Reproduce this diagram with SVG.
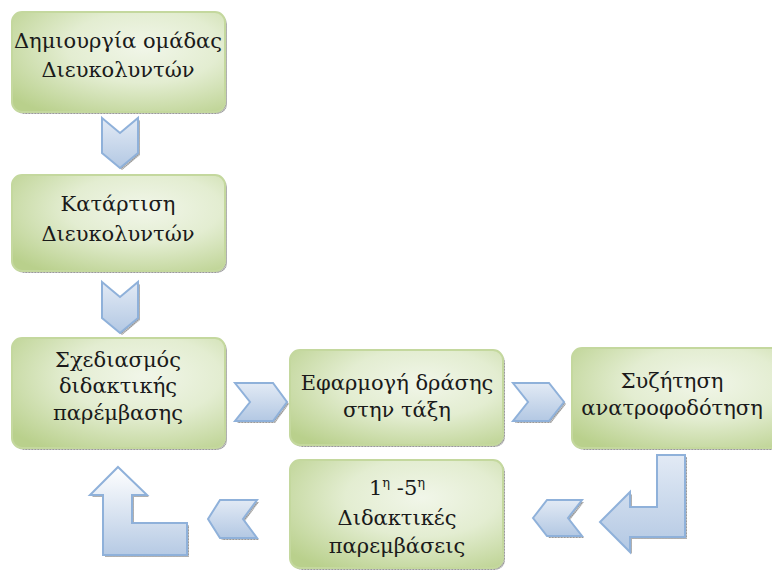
<svg xmlns="http://www.w3.org/2000/svg" width="772" height="579" viewBox="0 0 772 579">
<defs>
<radialGradient id="gBox" cx="0.62" cy="0.35" r="0.8">
<stop offset="0" stop-color="#f1f6e9"/>
<stop offset="0.45" stop-color="#e3edd1"/>
<stop offset="1" stop-color="#b9d08c"/>
</radialGradient>
<linearGradient id="gArr" x1="0" y1="0" x2="0" y2="1">
<stop offset="0" stop-color="#e2eaf5"/>
<stop offset="1" stop-color="#b3c8e3"/>
</linearGradient>
<linearGradient id="gUp" x1="0" y1="0" x2="0" y2="1">
<stop offset="0" stop-color="#ffffff"/>
<stop offset="1" stop-color="#b6cae4"/>
</linearGradient>
<pattern id="pSh" width="3" height="3" patternUnits="userSpaceOnUse">
<rect width="3" height="3" fill="#c4c4c4"/>
<rect width="1.5" height="1.5" fill="#9a9a9a"/>
<rect x="1.5" y="1.5" width="1.5" height="1.5" fill="#9a9a9a"/>
</pattern>
</defs>
<style>
.box{fill:url(#gBox);stroke:#c4d89e;stroke-width:2}
.sh{fill:url(#pSh)}
.arr{fill:url(#gArr);stroke:#8fb1da;stroke-width:2;stroke-linejoin:miter}
.up{fill:url(#gUp);stroke:#8fb1da;stroke-width:2}
.t{font-family:"DejaVu Serif","Liberation Serif",serif;font-size:21px;fill:#1a1a1a;text-anchor:middle}
.sup{font-size:13px}
</style>

<g id="connectors">
<g id="c1">
<polygon class="sh" points="104,120 122,135 140,120 140,155 122,170 104,155"/>
<polygon class="arr" points="102,118 120,133 138,118 138,153 120,168 102,153"/>
</g>
<g id="c2">
<polygon class="sh" points="104,284 122,299 140,284 140,320 122,335 104,320"/>
<polygon class="arr" points="102,282 120,297 138,282 138,318 120,333 102,318"/>
</g>
<g id="c3">
<polygon class="sh" points="237,385 275,385 289,404 275,423 237,423 252,404"/>
<polygon class="arr" points="235,383 273,383 287,402 273,421 235,421 250,402"/>
</g>
<g id="c4">
<polygon class="sh" points="515,385 551,385 566,404 551,423 515,423 530,404"/>
<polygon class="arr" points="513,383 549,383 564,402 549,421 513,421 528,402"/>
</g>
<g id="c5">
<polygon class="sh" points="659,457 687,457 687,539 632,539 632,554 602,524 632,494 632,509 659,509"/>
<polygon class="arr" points="657,455 685,455 685,537 630,537 630,552 600,522 630,492 630,507 657,507"/>
</g>
<g id="c6">
<polygon class="sh" points="535,520 549,502 584,502 570,520 584,538 549,538"/>
<polygon class="arr" points="533,518 547,500 582,500 568,518 582,536 547,536"/>
</g>
<g id="c7">
<polygon class="sh" points="210,521 222,502 259,502 245,521 259,540 222,540"/>
<polygon class="arr" points="208,519 220,500 257,500 243,519 257,538 220,538"/>
</g>
<g id="c8">
<polygon class="sh" points="120,469 149,497 134,497 134,525 189,525 189,557 105,557 105,497 92,497"/>
<polygon class="up" points="118,467 147,495 132,495 132,523 187,523 187,555 103,555 103,495 90,495"/>
</g>
</g>

<g id="n1">
<rect class="sh" x="14" y="14" width="213" height="100" rx="10"/>
<rect class="box" x="12" y="12" width="213" height="100" rx="10"/>
<text class="t" x="118" y="48">Δημιουργία ομάδας</text>
<text class="t" x="118" y="77">Διευκολυντών</text>
</g>
<g id="n2">
<rect class="sh" x="14" y="177" width="213" height="96" rx="10"/>
<rect class="box" x="12" y="175" width="213" height="96" rx="10"/>
<text class="t" x="118" y="211">Κατάρτιση</text>
<text class="t" x="118" y="241">Διευκολυντών</text>
</g>
<g id="n3">
<rect class="sh" x="14" y="340" width="213" height="110" rx="10"/>
<rect class="box" x="12" y="338" width="213" height="110" rx="10"/>
<text class="t" x="118" y="367">Σχεδιασμός</text>
<text class="t" x="118" y="393">διδακτικής</text>
<text class="t" x="118" y="420">παρέμβασης</text>
</g>
<g id="n4">
<rect class="sh" x="292" y="352" width="213" height="95" rx="10"/>
<rect class="box" x="290" y="350" width="213" height="95" rx="10"/>
<text class="t" x="397" y="390">Εφαρμογή δράσης</text>
<text class="t" x="397" y="417">στην τάξη</text>
</g>
<g id="n5">
<rect class="sh" x="292" y="462" width="213" height="108" rx="10"/>
<rect class="box" x="290" y="460" width="213" height="108" rx="10"/>
<text class="t" x="397" y="495">1<tspan class="sup" dy="-8">η</tspan><tspan dy="8"> -5</tspan><tspan class="sup" dy="-8">η</tspan></text>
<text class="t" x="397" y="525">Διδακτικές</text>
<text class="t" x="397" y="553">παρεμβάσεις</text>
</g>
<g id="n6">
<rect class="sh" x="574" y="350" width="213" height="100" rx="10"/>
<rect class="box" x="572" y="348" width="213" height="100" rx="10"/>
<text class="t" x="672" y="388">Συζήτηση</text>
<text class="t" x="672" y="415">ανατροφοδότηση</text>
</g>
</svg>
